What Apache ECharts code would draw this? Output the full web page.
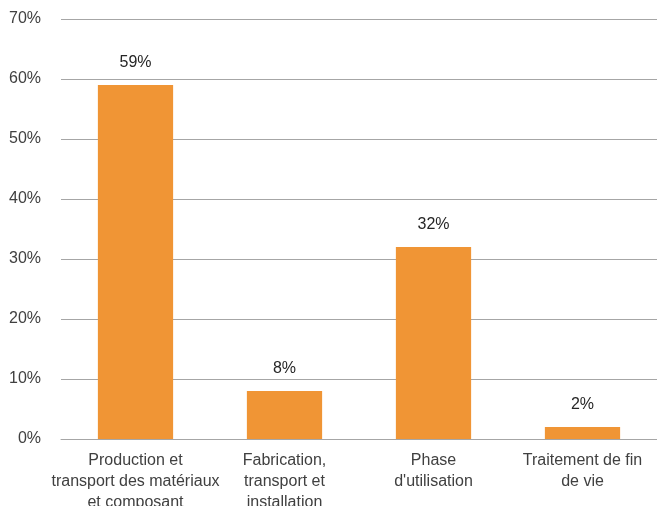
<!DOCTYPE html>
<html>
<head>
<meta charset="utf-8">
<script src="https://cdn.jsdelivr.net/npm/echarts@6/dist/echarts.min.js"></script>
<style>
html,body{margin:0;padding:0;background:#fff;overflow:hidden;}
#chart{width:657px;height:506px;}
</style>
</head>
<body>
<div id="chart"></div>
<script>
const categories = ['Production et\ntransport des matériaux\net composant', 'Fabrication,\ntransport et\ninstallation', 'Phase\nd\'utilisation', 'Traitement de fin\nde vie'];
const values = [59, 8, 32, 2];
const yTicks = [0, 10, 20, 30, 40, 50, 60, 70];

const chart = echarts.init(document.getElementById('chart'), null, {renderer: 'canvas', width: 657, height: 506});
chart.setOption({
  animation: false,
  textStyle: {fontFamily: 'Liberation Sans, Arial, sans-serif'},
  grid: {left: 61, right: 0, top: 19, bottom: 67, containLabel: false, outerBoundsMode: 'none'},
  xAxis: {
    type: 'category',
    data: categories,
    axisLine: {show: true, lineStyle: {color: '#a6a6a6', width: 1}},
    axisTick: {show: false},
    axisLabel: {interval: 0, margin: 11, color: '#404040', fontSize: 16, lineHeight: 21, align: 'center'}
  },
  yAxis: {
    type: 'value',
    min: yTicks[0],
    max: yTicks[yTicks.length - 1],
    interval: 10,
    axisLine: {show: false},
    axisTick: {show: false},
    splitLine: {lineStyle: {color: '#a6a6a6', width: 1}},
    axisLabel: {margin: 20, color: '#404040', fontSize: 16, padding: [6, 0, 0, 0], formatter: v => v + '%'}
  },
  series: [{
    type: 'bar',
    data: values,
    barWidth: '50.5%',
    itemStyle: {color: '#F09535'},
    label: {show: true, position: 'top', distance: 14, color: '#262626', fontSize: 16, formatter: p => p.value + '%'}
  }]
});
</script>
</body>
</html>
